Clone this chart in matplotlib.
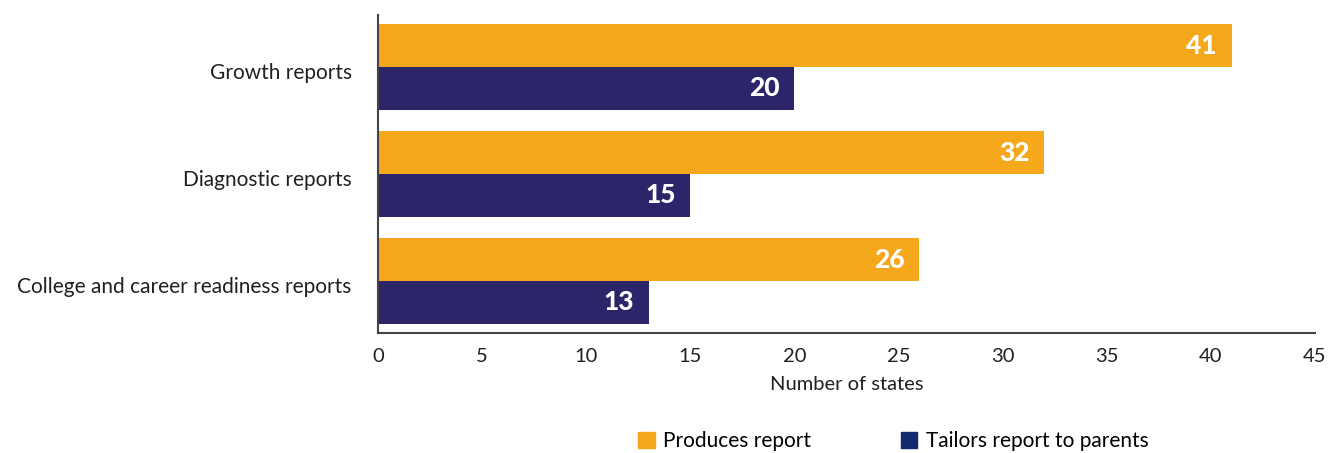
import matplotlib.pyplot as plt
from matplotlib.patches import Patch
import numpy as np

categories = ['Growth reports', 'Diagnostic reports', 'College and career readiness reports']
produces = [41, 32, 26]
tailors = [20, 15, 13]
legend_labels = ['Produces report', 'Tailors report to parents']
xticks = [0, 5, 10, 15, 20, 25, 30, 35, 40, 45]

orange = '#F6A81C'
navy = '#2D2569'
navy_legend = '#14296E'

plt.rcParams['font.family'] = ['Lato', 'DejaVu Sans']

fig = plt.figure(figsize=(13.43, 4.53), dpi=100)
ax = fig.add_axes([0.2815, 0.265, 0.6975, 0.702])

y = np.arange(len(categories))
h = 0.4
ax.barh(y - h / 2, produces, height=h, color=orange)
ax.barh(y + h / 2, tailors, height=h, color=navy)

for yi, v in zip(y, produces):
    ax.text(v - 0.7, yi - h / 2, str(v), color='white', fontsize=19, fontweight='black',
            ha='right', va='center')
for yi, v in zip(y, tailors):
    ax.text(v - 0.7, yi + h / 2, str(v), color='white', fontsize=19, fontweight='black',
            ha='right', va='center')

ax.set_xlim(0, 45)
ax.set_ylim(2.486, -0.486)
ax.set_xticks(xticks)
ax.set_yticks(y + 0.04)
ax.set_yticklabels(categories, fontsize=15, color='#231f20')
ax.tick_params(axis='x', labelsize=14.5, colors='#231f20', length=0, pad=11)
ax.tick_params(axis='y', length=0, pad=19)
ax.set_xlabel('Number of states', fontsize=14.5, color='#231f20', labelpad=8)

for s in ['top', 'right']:
    ax.spines[s].set_visible(False)
for s in ['left', 'bottom']:
    ax.spines[s].set_color('#444444')
    ax.spines[s].set_linewidth(1.5)

handles = [Patch(color=orange), Patch(color=navy_legend)]
fig.legend(handles, legend_labels, loc='center', bbox_to_anchor=(0.665, 0.026),
           ncol=2, frameon=False, fontsize=15, handlelength=0.8, handleheight=0.8,
           columnspacing=4.3, handletextpad=0.4)

fig.savefig('out.png', dpi=100)
